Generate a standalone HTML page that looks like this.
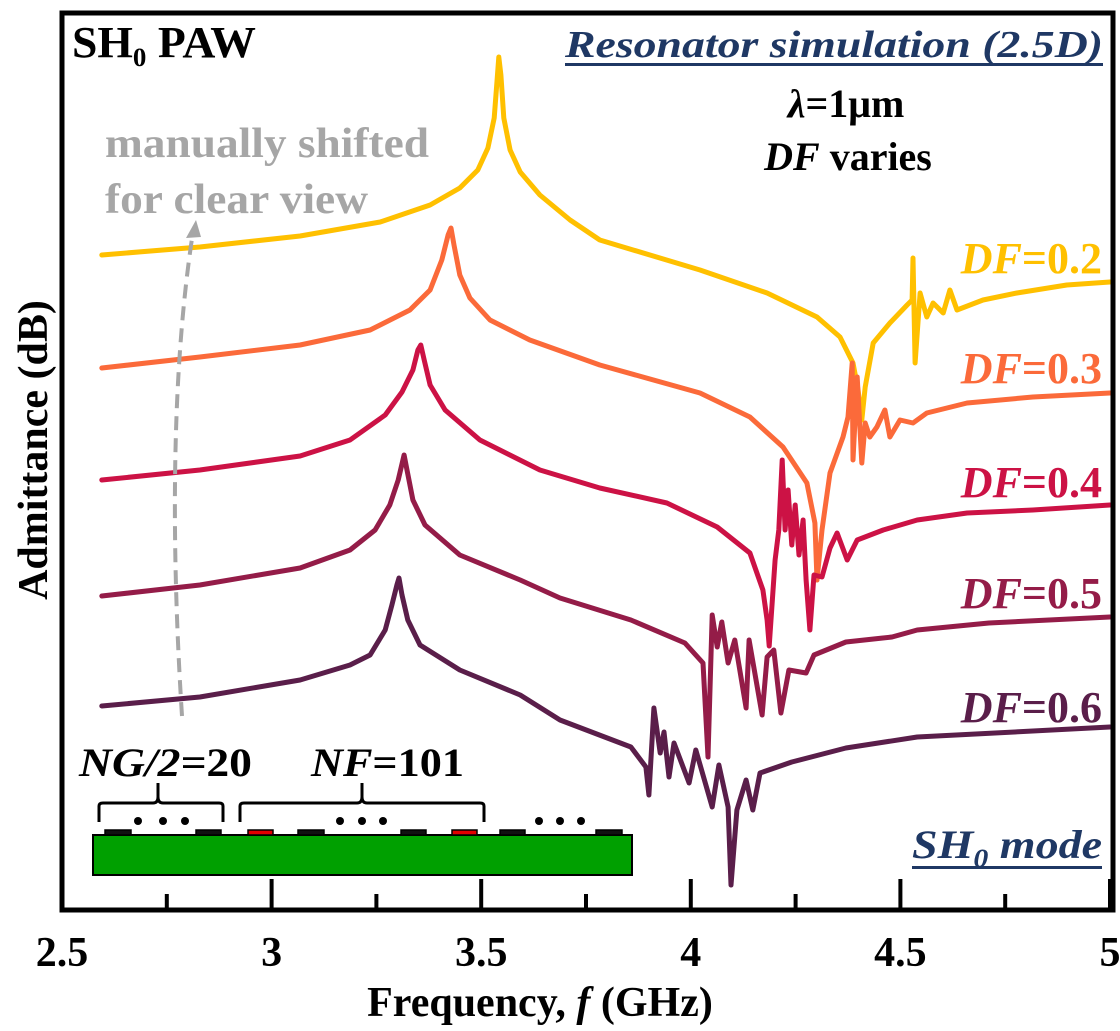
<!DOCTYPE html>
<html><head><meta charset="utf-8"><style>
html,body{margin:0;padding:0;background:#fff;}
svg{display:block;}
text{font-family:"Liberation Serif",serif;font-weight:bold;}
</style></head>
<body>
<svg id="chart" width="1120" height="1031" viewBox="0 0 1120 1031" xmlns="http://www.w3.org/2000/svg">
<g id="curves"></g>
<rect x="62" y="13" width="1051" height="897" fill="none" stroke="#000" stroke-width="5"/>
<g id="ticks"></g>
<text x="72" y="57" font-size="44" textLength="184" lengthAdjust="spacingAndGlyphs">SH<tspan font-size="26" dy="9">0</tspan><tspan dy="-9"> PAW</tspan></text>
<text x="105" y="157" font-size="42" fill="#a6a6a6" textLength="324" lengthAdjust="spacingAndGlyphs">manually shifted</text>
<text x="105" y="213" font-size="42" fill="#a6a6a6" textLength="263" lengthAdjust="spacingAndGlyphs">for clear view</text>
<path d="M182,716 C172,560 170,380 193,232" fill="none" stroke="#a6a6a6" stroke-width="4" stroke-dasharray="14,8"/>
<polygon points="196,220 186,238 201,237" fill="#a6a6a6"/>
<text x="565" y="57" font-size="38" font-style="italic" fill="#1f3864" textLength="538" lengthAdjust="spacingAndGlyphs">Resonator simulation (2.5D)</text>
<rect x="565" y="63" width="538" height="3" fill="#1f3864"/>
<text x="846" y="117" font-size="40" text-anchor="middle"><tspan font-style="italic">λ</tspan>=1μm</text>
<text x="848" y="170" font-size="40" text-anchor="middle"><tspan font-style="italic">DF</tspan> varies</text>
<g id="labels"></g>
<text x="912" y="858" font-size="40" font-style="italic" fill="#1f3864" textLength="190" lengthAdjust="spacingAndGlyphs">SH<tspan font-size="26" dy="9">0</tspan><tspan dy="-9"> mode</tspan></text>
<rect x="912" y="866" width="190" height="3" fill="#1f3864"/>
<g>
  <text x="79" y="776" font-size="40" font-style="italic" textLength="173" lengthAdjust="spacingAndGlyphs">NG/2=<tspan font-style="normal">20</tspan></text>
  <text x="311" y="776" font-size="40" textLength="153" lengthAdjust="spacingAndGlyphs"><tspan font-style="italic">NF</tspan>=101</text>
  <path d="M99,822 L99,806 Q99,803 103,803 L153,803 Q158,803 158,797 L158,783 L158,797 Q158,803 163,803 L219,803 Q223,803 223,806 L223,822" fill="none" stroke="#000" stroke-width="3"/>
  <path d="M240,822 L240,806 Q240,803 244,803 L357,803 Q362,803 362,797 L362,783 L362,797 Q362,803 367,803 L480,803 Q484,803 484,806 L484,822" fill="none" stroke="#000" stroke-width="3"/>
  <rect x="93" y="835" width="539" height="40" fill="#00a000" stroke="#000" stroke-width="2"/>
  <g stroke="#000" stroke-width="1.5">
    <rect x="105" y="830" width="26" height="5" fill="#111"/>
    <rect x="196" y="830" width="25" height="5" fill="#111"/>
    <rect x="248" y="830" width="25" height="5" fill="#e00000"/>
    <rect x="298" y="830" width="26" height="5" fill="#111"/>
    <rect x="401" y="830" width="25" height="5" fill="#111"/>
    <rect x="452" y="830" width="25" height="5" fill="#e00000"/>
    <rect x="500" y="830" width="25" height="5" fill="#111"/>
    <rect x="596" y="830" width="26" height="5" fill="#111"/>
  </g>
  <g fill="#000">
    <circle cx="138" cy="821" r="4"/><circle cx="163" cy="821" r="4"/><circle cx="185" cy="821" r="4"/>
    <circle cx="340" cy="821" r="4"/><circle cx="362" cy="821" r="4"/><circle cx="383" cy="821" r="4"/>
    <circle cx="539" cy="821" r="4"/><circle cx="560" cy="821" r="4"/><circle cx="581" cy="821" r="4"/>
  </g>
</g>
<text x="540" y="1016" font-size="42" text-anchor="middle">Frequency, <tspan font-style="italic">f</tspan> (GHz)</text>
<text transform="translate(47,450) rotate(-90)" font-size="42" text-anchor="middle">Admittance (dB)</text>
</svg>
<script>
const majorTicks = [2.5, 3, 3.5, 4, 4.5, 5];
const minorTicks = [2.75, 3.25, 3.75, 4.25, 4.75];
const tickLabels = ["2.5", "3", "3.5", "4", "4.5", "5"];
const seriesNames = ["DF=0.2", "DF=0.3", "DF=0.4", "DF=0.5", "DF=0.6"];
const seriesColors = ["#ffc000", "#fb6a3a", "#cc1245", "#941c48", "#5a1e4a"];
const labelValues = ["0.2", "0.3", "0.4", "0.5", "0.6"];
const labelLevels = [-54.6, -76.6, -99.4, -121.6, -144.4];

const f02 = [2.595,2.829,3.068,3.259,3.378,3.449,3.492,3.516,3.531,3.538,3.542,3.547,3.554,3.569,3.593,3.640,3.712,3.783,4.022,4.182,4.301,4.356,4.387,4.399,4.408,4.416,4.435,4.475,4.516,4.528,4.530,4.535,4.547,4.563,4.578,4.602,4.618,4.635,4.697,4.778,4.897,5.0];
const v02 = [-51,-49.4,-47.2,-44.4,-41,-37.6,-34,-29.6,-23.6,-16,-11.4,-15,-23.6,-30,-34.4,-39,-44,-48,-54,-58.6,-63.4,-67.4,-72.6,-78,-84,-77.4,-68.6,-64.6,-61,-60,-51.6,-72.6,-58.6,-63.4,-60.6,-62.6,-58,-62,-60,-58.6,-57,-56.4];

const f03 = [2.595,2.829,3.068,3.235,3.330,3.378,3.406,3.421,3.428,3.435,3.449,3.473,3.521,3.616,3.783,4.022,4.141,4.220,4.277,4.296,4.301,4.313,4.332,4.363,4.375,4.385,4.387,4.397,4.408,4.416,4.427,4.444,4.463,4.475,4.499,4.530,4.563,4.659,4.816,5.0];
const v03 = [-73.6,-71.4,-69,-66,-62,-58,-52,-47,-45.6,-49,-55,-59.6,-64,-68,-73,-78.6,-83.4,-89.4,-96.6,-104.6,-116,-106,-94.6,-87.4,-83.4,-72.6,-92,-75.4,-92.6,-84.6,-87.4,-85.4,-82,-87.4,-84,-84.6,-82.6,-80.6,-79.4,-78.6];

const f04 = [2.595,2.829,3.068,3.187,3.271,3.311,3.337,3.349,3.356,3.364,3.378,3.414,3.497,3.640,3.783,3.943,4.063,4.141,4.172,4.182,4.187,4.201,4.210,4.218,4.225,4.232,4.241,4.249,4.258,4.268,4.275,4.284,4.294,4.313,4.332,4.349,4.373,4.397,4.459,4.540,4.659,4.816,5.0];
const v04 = [-96,-94,-91.2,-88,-83,-78.4,-74,-70,-69,-72,-77,-82,-88,-94,-97.6,-100.6,-105.4,-110.6,-118,-124,-129.2,-112,-106,-92,-106,-98,-109,-101,-111,-104,-116,-126,-115,-115.4,-109.6,-106.6,-112,-108,-106,-104,-102.6,-102,-101];

const f05 = [2.595,2.829,3.068,3.187,3.247,3.282,3.302,3.316,3.323,3.337,3.366,3.449,3.593,3.688,3.857,3.986,4.029,4.041,4.051,4.063,4.074,4.089,4.105,4.132,4.139,4.170,4.182,4.198,4.215,4.234,4.275,4.294,4.370,4.480,4.540,4.711,5.0];
const v05 = [-119.2,-117,-113.6,-110,-106,-101,-96,-91,-94,-100,-105,-111,-116,-119.6,-124,-128.6,-132.6,-151.4,-123,-129.4,-124.4,-132.6,-128,-141.6,-128,-143,-131.4,-130,-142.6,-134,-134.6,-131,-128.4,-127.4,-126,-124.6,-123.4];

const f06 = [2.595,2.829,3.068,3.187,3.235,3.271,3.287,3.299,3.304,3.311,3.325,3.354,3.449,3.593,3.688,3.857,3.893,3.900,3.912,3.927,3.936,3.948,3.960,3.996,4.012,4.051,4.067,4.089,4.096,4.110,4.132,4.148,4.165,4.241,4.370,4.540,5.0];
const v06 = [-141.2,-139.4,-136,-133,-131,-126,-121,-117,-115.6,-119,-124,-129,-134,-139,-144,-149.4,-153.4,-159,-141.6,-150.6,-146.4,-155.4,-148.6,-156.6,-150,-161.4,-153,-161.4,-177,-162,-156,-162,-154.6,-152.4,-149.6,-147.4,-145.4];

const freqSeries = [f02, f03, f04, f05, f06];
const valueSeries = [v02, v03, v04, v05, v06];

const NS = "http://www.w3.org/2000/svg";
function xScale(f) { return 62 + (f - 2.5) * 419.2; }
function yScale(v) { return -5 * v; }

const curves = document.getElementById('curves');
for (let s = 0; s < freqSeries.length; s++) {
  const fs = freqSeries[s], vs = valueSeries[s];
  let d = '';
  for (let i = 0; i < fs.length; i++) {
    d += (i ? 'L' : 'M') + xScale(fs[i]).toFixed(1) + ',' + yScale(vs[i]).toFixed(1);
  }
  const p = document.createElementNS(NS, 'path');
  p.setAttribute('d', d);
  p.setAttribute('fill', 'none');
  p.setAttribute('stroke', seriesColors[s]);
  p.setAttribute('stroke-width', '5');
  p.setAttribute('stroke-linejoin', 'round');
  p.setAttribute('stroke-linecap', 'round');
  
  
  curves.appendChild(p);
}

const labels = document.getElementById('labels');
for (let s = 0; s < labelValues.length; s++) {
  const t = document.createElementNS(NS, 'text');
  t.setAttribute('x', '1102');
  t.setAttribute('y', yScale(labelLevels[s]).toFixed(1));
  t.setAttribute('text-anchor', 'end');
  t.setAttribute('font-size', '44');
  t.setAttribute('fill', seriesColors[s]);
  t.innerHTML = '<tspan font-style="italic">DF</tspan>=' + labelValues[s];
  
  
  labels.appendChild(t);
}

const ticks = document.getElementById('ticks');
for (let i = 0; i < majorTicks.length; i++) {
  const x = xScale(majorTicks[i]);
  const l = document.createElementNS(NS, 'line');
  l.setAttribute('x1', x); l.setAttribute('x2', x);
  l.setAttribute('y1', 879); l.setAttribute('y2', 910);
  l.setAttribute('stroke', '#000'); l.setAttribute('stroke-width', '4');
  
  
  ticks.appendChild(l);
  const t = document.createElementNS(NS, 'text');
  t.setAttribute('x', x); t.setAttribute('y', 966);
  t.setAttribute('text-anchor', 'middle');
  t.setAttribute('font-size', '42');
  t.textContent = tickLabels[i];
  
  
  ticks.appendChild(t);
}
for (let i = 0; i < minorTicks.length; i++) {
  const x = xScale(minorTicks[i]);
  const l = document.createElementNS(NS, 'line');
  l.setAttribute('x1', x); l.setAttribute('x2', x);
  l.setAttribute('y1', 894); l.setAttribute('y2', 910);
  l.setAttribute('stroke', '#000'); l.setAttribute('stroke-width', '4');
  
  
  ticks.appendChild(l);
}
</script>
</body></html>
